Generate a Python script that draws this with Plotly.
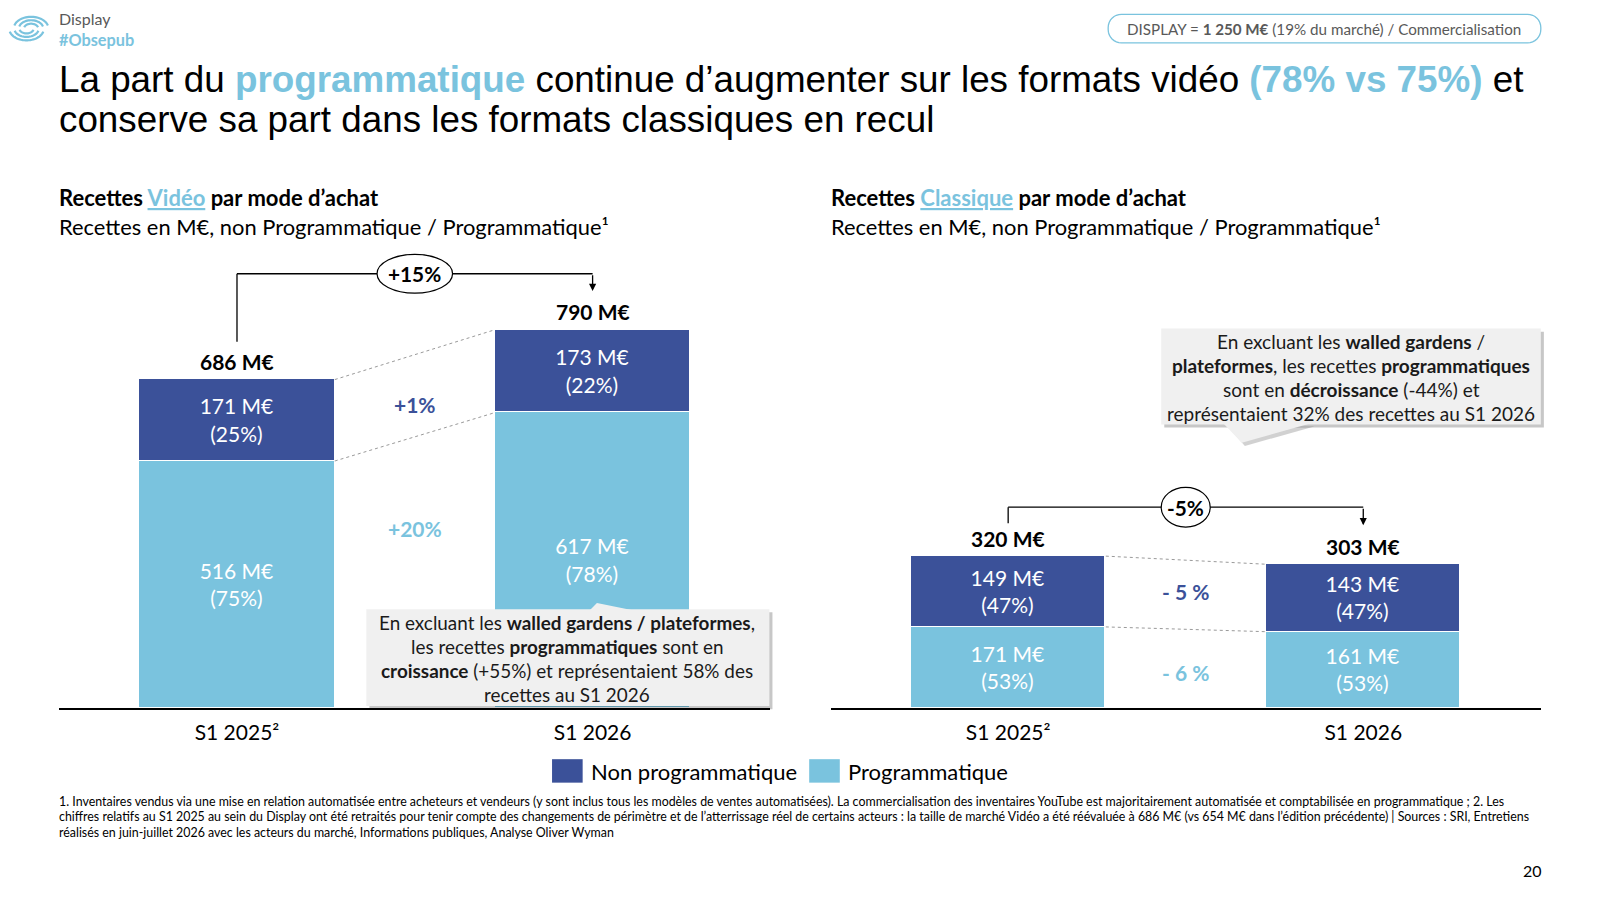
import numpy as np
import plotly.graph_objects as go

# ---------------- data ----------------
categories = ["S1 2025²", "S1 2026"]

video_prog = [516, 617]
video_nonprog = [171, 173]
video_prog_pct = [75, 78]
video_nonprog_pct = [25, 22]
video_total = [686, 790]
video_growth = ["+15%", "+1%", "+20%"]          # total, non prog, prog

classic_prog = [171, 161]
classic_nonprog = [149, 143]
classic_prog_pct = [53, 53]
classic_nonprog_pct = [47, 47]
classic_total = [320, 303]
classic_growth = ["-5%", "- 5 %", "- 6 %"]

series_names = ["Non programmatique", "Programmatique"]

# ---------------- styling / layout helpers ----------------
OFF = 8                          # page body margin of the browser
FW, FH = 1600 - OFF, 899 - OFF
RW, RH = 1568.0, 881.0          # reference reading frame
K = 1600 / RW


def px(x):
    return (x * K - OFF) / FW


def py(y):
    return 1 - (y * K - OFF) / FH


DARK = "#3B5199"
LIGHT = "#7AC3DE"
GREY_TXT = "#595959"
FONT = "Lato"
TITLE_FONT = "Liberation Sans"

fig = go.Figure()

panels = [
    dict(xa="x", ya="y", prog=video_prog, non=video_nonprog, ppct=video_prog_pct,
         npct=video_nonprog_pct, tot=video_total, growth=video_growth,
         scale=0.4694, off_start=79, off_end=81, off_top=117, ell=(74, 38),
         mid_y=(633, 375), gsize=20.8),
    dict(xa="x2", ya="y2", prog=classic_prog, non=classic_nonprog, ppct=classic_prog_pct,
         npct=classic_nonprog_pct, tot=classic_total, growth=classic_growth,
         scale=0.4656, off_start=69, off_end=82, off_top=103, ell=(48, 39),
         mid_y=(245, 75), gsize=20.8),
]

shapes = []
annotations = []
BW = 0.55

for p in panels:
    fig.add_trace(go.Bar(
        x=categories, y=p["prog"], customdata=p["ppct"], name=series_names[1],
        marker=dict(color=LIGHT, line=dict(color="white", width=1.5)),
        width=BW, texttemplate="%{y} M€<br>(%{customdata}%)", textposition="inside",
        insidetextanchor="middle", constraintext="none",
        textfont=dict(family=FONT, size=21, color="white"),
        xaxis=p["xa"], yaxis=p["ya"], hoverinfo="skip"))
    fig.add_trace(go.Bar(
        x=categories, y=p["non"], customdata=p["npct"], name=series_names[0],
        marker=dict(color=DARK, line=dict(color="white", width=1.5)),
        width=BW, texttemplate="%{y} M€<br>(%{customdata}%)", textposition="inside",
        insidetextanchor="middle", constraintext="none",
        textfont=dict(family=FONT, size=21, color="white"),
        xaxis=p["xa"], yaxis=p["ya"], hoverinfo="skip"))

    xr, yr = p["xa"], p["ya"]
    tot = p["tot"]
    # totals
    for i, t in enumerate(tot):
        annotations.append(dict(x=categories[i], y=t, xref=xr, yref=yr, text=f"<b>{t} M€</b>",
                                showarrow=False, yanchor="middle", yshift=17.5 * K,
                                font=dict(family=FONT, size=21, color="black")))
    # dotted connectors
    for a, b in [(tot[0], tot[1]), (p["prog"][0], p["prog"][1])]:
        shapes.append(dict(type="line", xref=xr, yref=yr, x0=BW / 2, x1=1 - BW / 2, y0=a, y1=b,
                           line=dict(color="#9A9A9A", width=1, dash="dot")))
    # bracket
    y_start = tot[0] + p["off_start"]
    y_top = max(tot) + p["off_top"]
    y_end = tot[1] + p["off_end"]
    shapes.append(dict(type="line", xref=xr, yref=yr, x0=0, x1=0, y0=y_start, y1=y_top,
                       line=dict(color="black", width=1.3)))
    shapes.append(dict(type="line", xref=xr, yref=yr, x0=0, x1=1, y0=y_top, y1=y_top,
                       line=dict(color="black", width=1.3)))
    annotations.append(dict(x=1, y=y_end, xref=xr, yref=yr, ax=1, ay=y_top, axref=xr, ayref=yr,
                            text="", showarrow=True, arrowhead=2, arrowsize=1.1, arrowwidth=1.3,
                            arrowcolor="black", standoff=0))
    ew, eh = p["ell"]
    shapes.append(dict(type="circle", xref=xr, yref=yr, xsizemode="pixel", ysizemode="pixel",
                       xanchor=0.5, yanchor=y_top, x0=-ew * K / 2, x1=ew * K / 2,
                       y0=-eh * K / 2, y1=eh * K / 2, fillcolor="white",
                       line=dict(color="black", width=1.2)))
    annotations.append(dict(x=0.5, y=y_top, xref=xr, yref=yr, text=f"<b>{p['growth'][0]}</b>",
                            showarrow=False, font=dict(family=FONT, size=p["gsize"], color="black")))
    # segment growth labels
    annotations.append(dict(x=0.5, y=p["mid_y"][0], xref=xr, yref=yr, text=f"<b>{p['growth'][1]}</b>",
                            showarrow=False, font=dict(family=FONT, size=21, color=DARK)))
    annotations.append(dict(x=0.5, y=p["mid_y"][1], xref=xr, yref=yr, text=f"<b>{p['growth'][2]}</b>",
                            showarrow=False, font=dict(family=FONT, size=21, color=LIGHT)))

axis_common = dict(showgrid=False, zeroline=False, showline=True, linecolor="black", linewidth=1.5,
                   ticks="", tickfont=dict(family=FONT, size=21, color="black"),
                   ticklabelstandoff=5, range=[-0.5, 1.5], fixedrange=True)
ycommon = dict(visible=False, range=[0, 1000], fixedrange=True)

p0, p1 = panels
fig.update_layout(
    xaxis=dict(domain=[px(58), px(755)], anchor="y", **axis_common),
    yaxis=dict(domain=[py(694), py(694 - p0["scale"] * 1000)], anchor="x", **ycommon),
    xaxis2=dict(domain=[px(814), px(1510)], anchor="y2", **axis_common),
    yaxis2=dict(domain=[py(694), py(694 - p1["scale"] * 1000)], anchor="x2", **ycommon),
)


# ---------------- decorations ----------------
def txt(x, y, text, size, color="black", anchor="left", family=FONT):
    if anchor == "left":
        x -= 2
    annotations.append(dict(x=px(x), y=py(y), xref="paper", yref="paper", text=text,
                            showarrow=False, xanchor=anchor, yanchor="middle", align=anchor,
                            font=dict(family=family, size=size, color=color)))


def P(x, y):
    return f"{px(x):.5f},{py(y):.5f}"


def rrect_path(x0, y0, x1, y1, r):
    n = 8
    path = f"M {P(x0 + r, y0)} L {P(x1 - r, y0)}"
    corners = [(x1 - r, y0 + r, -90, (x1, y1 - r)), (x1 - r, y1 - r, 0, (x0 + r, y1)),
               (x0 + r, y1 - r, 90, (x0, y0 + r)), (x0 + r, y0 + r, 180, None)]
    for cx, cy, a0, nxt in corners:
        for k in range(n + 1):
            a = np.radians(a0 + 90 * k / n)
            path += f" L {P(cx + r * np.cos(a), cy + r * np.sin(a))}"
        if nxt:
            path += f" L {P(*nxt)}"
    return path + " Z"


def poly(points):
    return "M " + " L ".join(P(x, y) for x, y in points) + " Z"


# logo arcs (two interlocking groups)
for (cx, a0, a1) in [(30.5, 195, 345), (26.0, 15, 165)]:
    for r in [7, 12, 17]:
        angs = np.radians(np.linspace(a0, a1, 30))
        pts = [(cx + r * np.cos(a), 28 + r * 0.68 * np.sin(a)) for a in angs]
        path = "M " + " L ".join(P(x, y) for x, y in pts)
        shapes.append(dict(type="path", xref="paper", yref="paper", path=path,
                           line=dict(color=LIGHT, width=2.2)))

txt(58, 18, "Display", 16, GREY_TXT)
txt(58, 39, "<b>#Obsepub</b>", 16.3, LIGHT)

# badge
shapes.append(dict(type="path", xref="paper", yref="paper", path=rrect_path(1086, 14, 1510, 42, 13),
                   line=dict(color=LIGHT, width=1.3), fillcolor="white"))
txt(1298, 28.5, "DISPLAY = <b>1 250 M€</b> (19% du marché) / Commercialisation", 15.2, GREY_TXT, "center")

# title
txt(58, 78, "La part du <span style='color:#7AC3DE'><b>programmatique</b></span> continue d’augmenter "
            "sur les formats vidéo <span style='color:#7AC3DE'><b>(78% vs 75%)</b></span> et",
    36.8, "black", "left", TITLE_FONT)
txt(58, 117, "conserve sa part dans les formats classiques en recul", 36.8, "black", "left", TITLE_FONT)

# section headers
txt(58, 194, "<b>Recettes <span style='color:#7AC3DE;text-decoration:underline'>Vidéo</span> par mode d’achat</b>", 22)
txt(58, 222, "Recettes en M€, non Programmatique / Programmatique¹", 21.9)
txt(814, 194, "<b>Recettes <span style='color:#7AC3DE;text-decoration:underline'>Classique</span> par mode d’achat</b>", 22)
txt(814, 222, "Recettes en M€, non Programmatique / Programmatique¹", 21.9)

# callout left
shapes.append(dict(type="rect", xref="paper", yref="paper", x0=px(362), x1=px(757), y0=py(695), y1=py(600),
                   line=dict(width=0), fillcolor="rgba(0,0,0,0.22)"))
shapes.append(dict(type="rect", xref="paper", yref="paper", x0=px(359), x1=px(754), y0=py(692), y1=py(597),
                   line=dict(width=0), fillcolor="#F0F0F0"))
shapes.append(dict(type="path", xref="paper", yref="paper", path=poly([(578, 598), (585, 591), (620, 598)]),
                   line=dict(width=0), fillcolor="#F0F0F0"))
left_call = ["En excluant les <b>walled gardens / plateformes</b>,",
             "les recettes <b>programmatiques</b> sont en",
             "<b>croissance</b> (+55%) et représentaient 58% des",
             "recettes au S1 2026"]
for i, line in enumerate(left_call):
    txt(556, 610 + i * 23.4, line, 18.9, "#1A1A1A", "center")

# callout right
shapes.append(dict(type="rect", xref="paper", yref="paper", x0=px(1141), x1=px(1513), y0=py(419), y1=py(325),
                   line=dict(width=0), fillcolor="rgba(0,0,0,0.22)"))
shapes.append(dict(type="path", xref="paper", yref="paper", path=poly([(1203, 418), (1220, 437), (1288, 418)]),
                   line=dict(width=0), fillcolor="rgba(0,0,0,0.18)"))
shapes.append(dict(type="rect", xref="paper", yref="paper", x0=px(1138), x1=px(1510), y0=py(416), y1=py(322),
                   line=dict(width=0), fillcolor="#F0F0F0"))
shapes.append(dict(type="path", xref="paper", yref="paper", path=poly([(1199, 415), (1217, 434), (1284, 415)]),
                   line=dict(width=0), fillcolor="#F0F0F0"))
right_call = ["En excluant les <b>walled gardens</b> /",
              "<b>plateformes</b>, les recettes <b>programmatiques</b>",
              "sont en <b>décroissance</b> (-44%) et",
              "représentaient 32% des recettes au S1 2026"]
for i, line in enumerate(right_call):
    txt(1324, 335 + i * 23.4, line, 19, "#1A1A1A", "center")

# legend (custom)
shapes.append(dict(type="rect", xref="paper", yref="paper", x0=px(541), x1=px(571), y0=py(767), y1=py(744),
                   line=dict(width=0), fillcolor=DARK))
shapes.append(dict(type="rect", xref="paper", yref="paper", x0=px(793), x1=px(823), y0=py(767), y1=py(744),
                   line=dict(width=0), fillcolor=LIGHT))
txt(579, 756, series_names[0], 22)
txt(831, 756, series_names[1], 22)

# footnote
foot = [
    "1. Inventaires vendus via une mise en relation automatisée entre acheteurs et vendeurs (y sont inclus tous les modèles de ventes automatisées). "
    "La commercialisation des inventaires YouTube est majoritairement automatisée et comptabilisée en programmatique ; 2. Les",
    "chiffres relatifs au S1 2025 au sein du Display ont été retraités pour tenir compte des changements de périmètre et de l’atterrissage réel de certains acteurs : "
    "la taille de marché Vidéo a été réévaluée à 686 M€ (vs 654 M€ dans l’édition précédente) | Sources : SRI, Entretiens",
    "réalisés en juin-juillet 2026 avec les acteurs du marché, Informations publiques, Analyse Oliver Wyman",
]
for i, line in enumerate(foot):
    txt(58, 785 + i * 15.5, line, 12.4, "black")

txt(1502, 853, "20", 16, "black", "center")

fig.update_layout(
    width=FW, height=FH, margin=dict(l=0, r=0, t=0, b=0),
    paper_bgcolor="white", plot_bgcolor="rgba(0,0,0,0)",
    barmode="stack", showlegend=False, bargap=0,
    font=dict(family=FONT, color="black"),
    shapes=shapes, annotations=annotations,
)

fig.write_html("out.html")
